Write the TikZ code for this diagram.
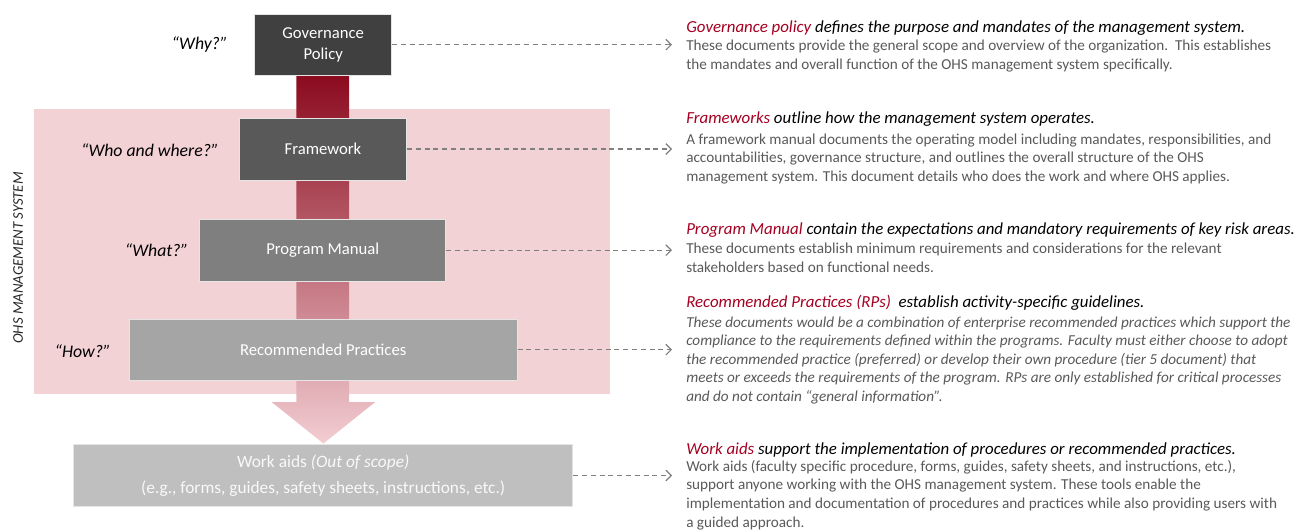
\documentclass[tikz,border=0pt]{standalone}
\usepackage{fontspec}
\setmainfont{Carlito}
\usepackage{xcolor}
\usetikzlibrary{positioning, arrows.meta}

\definecolor{govfill}{HTML}{404040}
\definecolor{fwfill}{HTML}{595959}
\definecolor{pmfill}{HTML}{7F7F7F}
\definecolor{rpfill}{HTML}{A5A5A5}
\definecolor{wafill}{HTML}{BFBFBF}
\definecolor{ohsred}{HTML}{A50021}
\definecolor{arrowtop}{HTML}{8B0A1E}
\definecolor{arrowtip}{HTML}{F2CDD2}
\definecolor{ohspink}{HTML}{F2D2D5}
\definecolor{bodygray}{HTML}{595959}
\definecolor{linkgray}{HTML}{7F7F7F}

\tikzset{
  tier/.style = {draw = white!80!gray, line width = 0.6pt, text = white, inner sep = 0pt,
                 align = center, font = \fontsize{12.5}{15.5}\selectfont},
  question/.style = {anchor = east, inner sep = 0pt, font = \fontsize{13.3}{15}\selectfont\itshape},
  head/.style = {anchor = base west, inner sep = 0pt, font = \fontsize{12.65}{15}\selectfont\itshape},
  body/.style = {anchor = base west, inner sep = 0pt, align = left, text = bodygray,
                 font = \fontsize{11.4}{13.9}\selectfont},
  link/.style = {draw = linkgray, line width = 0.9pt, dash pattern = on 3.8pt off 2.8pt,
                 -{Straight Barb[length = 4pt, width = 8pt, line width = 0.9pt]}}
}

\begin{document}
\begin{tikzpicture}[x = 0.75pt, y = -0.75pt]
\useasboundingbox (0, 0) rectangle (1298, 529);
\fill [ohspink] (34, 109) rectangle (610, 394);
\node [rotate = 90, font = \fontsize{11.1}{12}\selectfont\itshape, text = black!85] (ohs) at (18, 258) {OHS MANAGEMENT SYSTEM};
\shade [top color = arrowtop, bottom color = arrowtip]
  (296.4, 75) -- (349, 75) -- (349, 402) -- (375.2, 402) -- (323.4, 443.5)
  -- (271.6, 402) -- (296.4, 402) -- cycle;
\node [tier, fill = govfill, minimum width = 102.75pt, minimum height = 45.75pt] (gov) at (323.2, 44.7) {Governance\\Policy};
\node [tier, fill = fwfill, minimum width = 125.25pt, minimum height = 46.5pt] (fw) at (323, 149) {Framework};
\node [tier, fill = pmfill, minimum width = 184.5pt, minimum height = 46.5pt] (pm) at (322.7, 250.2) {Program Manual};
\node [tier, fill = rpfill, minimum width = 291pt, minimum height = 45.75pt] (rp) at (323.2, 349.7) {Recommended Practices};
\node [tier, fill = wafill, text = white!95!gray, minimum width = 374.25pt, minimum height = 46.5pt,
  font = \fontsize{13}{20}\selectfont] (wa) at (323.2, 475.5) {Work aids \textit{(Out of scope)}\\(e.g., forms, guides, safety sheets, instructions, etc.)};
\node [question] (why) at (228, 45) {“Why?”};
\node [question] (who) at (219, 150) {“Who and where?”};
\node [question] (what) at (188.6, 250) {“What?”};
\node [question] (how) at (111, 351) {“How?”};
\coordinate (tip) at (672, 0);
\draw [link] (gov.east) -- (gov.east -| tip);
\draw [link] (fw.east) -- (fw.east -| tip);
\draw [link] (pm.east) -- (pm.east -| tip);
\draw [link] (rp.east) -- (rp.east -| tip);
\draw [link] (wa.east) -- (wa.east -| tip);
\node [head] (govhead) at (686, 32) {\textcolor{ohsred}{Governance policy} defines the purpose and mandates of the management system.};
\node [body] (govbody) at (686, 69) {These documents provide the general scope and overview of the organization.\ \ This establishes\\
  the mandates and overall function of the OHS management system specifically.};
\node [head] (fwhead) at (686, 123.5) {\textcolor{ohsred}{Frameworks} outline how the management system operates.};
\node [body] (fwbody) at (686, 181.5) {A framework manual documents the operating model including mandates, responsibilities, and\\
  accountabilities, governance structure, and outlines the overall structure of the OHS\\
  management system. This document details who does the work and where OHS applies.};
\node [head] (pmhead) at (686, 234.5) {\textcolor{ohsred}{Program Manual} contain the expectations and mandatory requirements of key risk areas.};
\node [body] (pmbody) at (686, 272) {These documents establish minimum requirements and considerations for the relevant\\
  stakeholders based on functional needs.};
\node [head] (rphead) at (686, 307.5) {\textcolor{ohsred}{Recommended Practices (RPs)}\ \ establish activity-specific guidelines.};
\node [body, font = \fontsize{11.4}{13.9}\selectfont\itshape] (rpbody) at (686, 401.5) {These documents would be a combination of enterprise recommended practices which support the\\
  compliance to the requirements defined within the programs. Faculty must either choose to adopt\\
  the recommended practice (preferred) or develop their own procedure (tier 5 document) that\\
  meets or exceeds the requirements of the program. RPs are only established for critical processes\\
  and do not contain “general information”.};
\node [head] (wahead) at (686, 454.5) {\textcolor{ohsred}{Work aids} support the implementation of procedures or recommended practices.};
\node [body] (wabody) at (686, 527) {Work aids (faculty specific procedure, forms, guides, safety sheets, and instructions, etc.),\\
  support anyone working with the OHS management system. These tools enable the\\
  implementation and documentation of procedures and practices while also providing users with\\
  a guided approach.};
\end{tikzpicture}
\end{document}
